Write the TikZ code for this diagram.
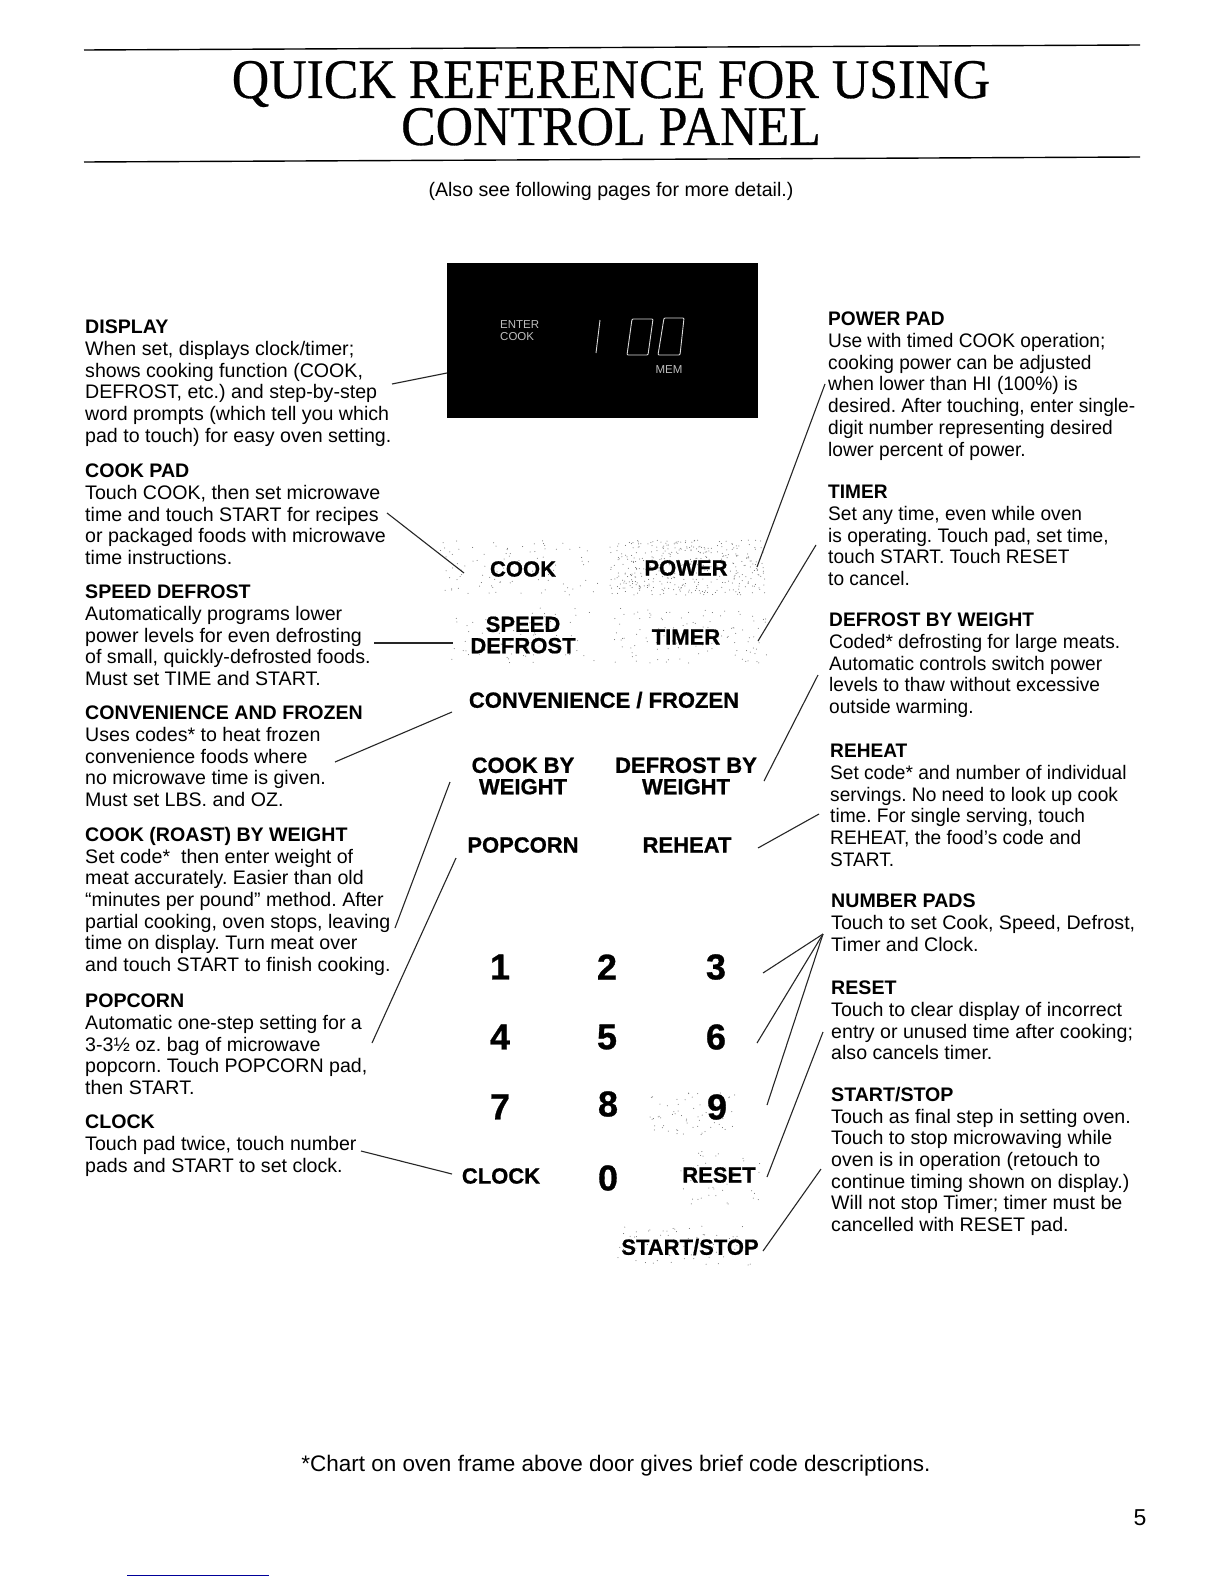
\documentclass[tikz,border=0pt]{standalone}
\usepackage{fontspec}
\setmainfont{Liberation Sans}
\newfontfamily\titlefont[FakeBold=.5]{Liberation Serif}
\newfontfamily\padfont[FakeBold=.8]{Liberation Sans Bold}

\newcommand{\padhead}[1]{\textbf{#1}}

\tikzset{
    blurb/.style={anchor=north west, inner sep=0pt, align=left, font=\fontsize{19.6}{21.7}\selectfont\frenchspacing, execute at begin node=\strut},
    blurbtight/.style={blurb, xscale=.975},
    padlabel/.style={inner sep=0pt, align=center, font=\fontsize{22}{21.4}\padfont\selectfont},
    padnum/.style={inner sep=0pt, font=\fontsize{36}{36}\padfont\selectfont},
    lead/.style={line width=1.1pt, black!85},
    readout/.style={inner sep=0pt, text=white!75!black, align=left, font=\fontsize{11.5}{12}\selectfont},
    segment/.style={white!85!black, line width=.9pt, rounded corners=1pt},
    headline/.style={inner sep=0pt, anchor=base, xscale=.925, font=\fontsize{56}{56}\titlefont\selectfont}
}

\begin{document}
\begin{tikzpicture}[x=1pt, y=-1pt]
    \useasboundingbox (0,0) rectangle (1224,1584);
    \fill[white] (0,0) rectangle (1224,1584);

    % title
    \draw[line width=1.4pt] (84,50) -- (1140,45);
    \draw[line width=1.4pt] (84,162) -- (1140,157);
    \node[headline] (titleone) at (611,98) {QUICK REFERENCE FOR USING};
    \node[headline] (titletwo) at (611,145) {CONTROL PANEL};
    \node[inner sep=0pt, font=\fontsize{19.6}{21.4}\selectfont] (also) at (611,191) {(Also see following pages for more detail.)};

    % display
    \node[fill=black, minimum width=311pt, minimum height=155pt, inner sep=0pt] (display) at (602.5,340) {};
    \node[readout, anchor=west] (enter) at (500,331) {ENTER\\COOK};
    \node[readout] (mem) at (669,370) {MEM};
    \draw[segment] (600,320) -- (596,353);
    \draw[segment] (632,319) -- (653,319) -- (648,355) -- (627,355) -- cycle;
    \draw[segment] (664,318) -- (684,318) -- (680,355) -- (658,355) -- cycle;

    % left column
    \node[blurb] (displaytext) at (85,320) {\padhead{DISPLAY}\\When set, displays clock/timer;\\shows cooking function (COOK,\\DEFROST, etc.) and step-by-step\\word prompts (which tell you which\\pad to touch) for easy oven setting.};
    \node[blurb] (cooktext) at (85,464) {\padhead{COOK PAD}\\Touch COOK, then set microwave\\time and touch START for recipes\\or packaged foods with microwave\\time instructions.};
    \node[blurb] (speedtext) at (85,585) {\padhead{SPEED DEFROST}\\Automatically programs lower\\power levels for even defrosting\\of small, quickly-defrosted foods.\\Must set TIME and START.};
    \node[blurb] (convtext) at (85,706) {\padhead{CONVENIENCE AND FROZEN}\\Uses codes* to heat frozen\\convenience foods where\\no microwave time is given.\\Must set LBS. and OZ.};
    \node[blurb] (roasttext) at (85,827) {\padhead{COOK (ROAST) BY WEIGHT}\\Set code*\ \ then enter weight of\\meat accurately. Easier than old\\``minutes per pound'' method. After\\partial cooking, oven stops, leaving\\time on display. Turn meat over\\and touch START to finish cooking.};
    \node[blurb] (popcorntext) at (85,994) {\padhead{POPCORN}\\Automatic one-step setting for a\\3-3\textonehalf\ oz. bag of microwave\\popcorn. Touch POPCORN pad,\\then START.};
    \node[blurb] (clocktext) at (85,1115) {\padhead{CLOCK}\\Touch pad twice, touch number\\pads and START to set clock.};

    % right column
    \node[blurbtight] (powertext) at (828,312) {\padhead{POWER PAD}\\Use with timed COOK operation;\\cooking power can be adjusted\\when lower than HI (100\%) is\\desired. After touching, enter single-\\digit number representing desired\\lower percent of power.};
    \node[blurbtight] (timertext) at (828,485) {\padhead{TIMER}\\Set any time, even while oven\\is operating. Touch pad, set time,\\touch START. Touch RESET\\to cancel.};
    \node[blurbtight] (weighttext) at (829,613) {\padhead{DEFROST BY WEIGHT}\\Coded* defrosting for large meats.\\Automatic controls switch power\\levels to thaw without excessive\\outside warming.};
    \node[blurbtight] (reheattext) at (830,744) {\padhead{REHEAT}\\Set code* and number of individual\\servings. No need to look up cook\\time. For single serving, touch\\REHEAT, the food's code and\\START.};
    \node[blurb] (numbertext) at (831,894) {\padhead{NUMBER PADS}\\Touch to set Cook, Speed, Defrost,\\Timer and Clock.};
    \node[blurb] (resettext) at (831,981) {\padhead{RESET}\\Touch to clear display of incorrect\\entry or unused time after cooking;\\also cancels timer.};
    \node[blurb] (starttext) at (831,1087) {\padhead{START/STOP}\\Touch as final step in setting oven.\\Touch to stop microwaving while\\oven is in operation (retouch to\\continue timing shown on display.)\\Will not stop Timer; timer must be\\cancelled with RESET pad.};

    % speckle on the pads
    \pgfmathsetseed{7}
    \foreach \xa/\ya/\w/\h/\n in {440/540/160/55/90, 610/540/155/55/420, 445/608/150/55/70, 612/608/155/55/110, 650/1090/90/45/60, 680/1150/80/55/40, 615/1225/140/40/70}{
        \foreach \i in {1,...,\n}{
            \pgfmathsetmacro{\px}{\xa+rnd*\w}
            \pgfmathsetmacro{\py}{\ya+rnd*\h}
            \fill[black!60] (\px,\py) circle (.5pt);
        }
    }

    % pads
    \node[padlabel] (cook) at (523,569) {COOK};
    \node[padlabel] (power) at (686,568) {POWER};
    \node[padlabel] (speed) at (523,635) {SPEED\\DEFROST};
    \node[padlabel] (timer) at (686,637) {TIMER};
    \node[padlabel] (conv) at (604,700) {CONVENIENCE / FROZEN};
    \node[padlabel] (cookweight) at (523,776) {COOK BY\\WEIGHT};
    \node[padlabel] (defrostweight) at (686,776) {DEFROST BY\\WEIGHT};
    \node[padlabel] (popcorn) at (523,845) {POPCORN};
    \node[padlabel] (reheat) at (687,845) {REHEAT};
    \foreach \num/\x/\y in {1/500/967, 2/607/967, 3/716/967, 4/500/1037, 5/607/1037, 6/716/1037, 7/500/1107, 8/608/1104, 9/717/1107, 0/608/1178}
        \node[padnum] (num\num) at (\x,\y) {\num};
    \node[padlabel] (clock) at (501,1176) {CLOCK};
    \node[padlabel] (reset) at (719,1175) {RESET};
    \node[padlabel] (startstop) at (690,1247) {START/STOP};

    % leader ends
    \coordinate (displayfrom) at (392,384);
    \coordinate (displayto) at (447,373);
    \coordinate (cookfrom) at (387,513);
    \coordinate (cookto) at (464,573);
    \coordinate (speedfrom) at (374,643);
    \coordinate (speedto) at (453,643);
    \coordinate (convfrom) at (335,762);
    \coordinate (convto) at (452,712);
    \coordinate (roastfrom) at (395,928);
    \coordinate (roastto) at (450,782);
    \coordinate (popcornfrom) at (372,1043);
    \coordinate (popcornto) at (456,858);
    \coordinate (clockfrom) at (361,1151);
    \coordinate (clockto) at (452,1174);
    \coordinate (powerfrom) at (825,384);
    \coordinate (powerto) at (757,567);
    \coordinate (timerfrom) at (816,545);
    \coordinate (timerto) at (758,641);
    \coordinate (weightfrom) at (818,675);
    \coordinate (weightto) at (764,781);
    \coordinate (reheatfrom) at (819,814);
    \coordinate (reheatto) at (758,848);
    \coordinate (numberfrom) at (823,934);
    \coordinate (threeto) at (763,973);
    \coordinate (sixto) at (757,1043);
    \coordinate (nineto) at (767,1105);
    \coordinate (resetfrom) at (823,1032);
    \coordinate (resetto) at (767,1177);
    \coordinate (startfrom) at (821,1169);
    \coordinate (startto) at (763,1251);

    % leaders
    \foreach \a/\b in {displayfrom/displayto, cookfrom/cookto, speedfrom/speedto, convfrom/convto, roastfrom/roastto, popcornfrom/popcornto, clockfrom/clockto, powerfrom/powerto, timerfrom/timerto, weightfrom/weightto, reheatfrom/reheatto, numberfrom/threeto, numberfrom/sixto, numberfrom/nineto, resetfrom/resetto, startfrom/startto}
        \draw[lead] (\a) -- (\b);

    % foot of the page
    \node[inner sep=0pt, font=\fontsize{22.5}{24}\selectfont] (chart) at (616,1466) {*Chart on oven frame above door gives brief code descriptions.};
    \node[inner sep=0pt, font=\fontsize{23}{24}\selectfont] (pageno) at (1140,1518) {5};
    \draw[blue!60!black, line width=.8pt] (127,1575) -- (269,1575);
\end{tikzpicture}
\end{document}
